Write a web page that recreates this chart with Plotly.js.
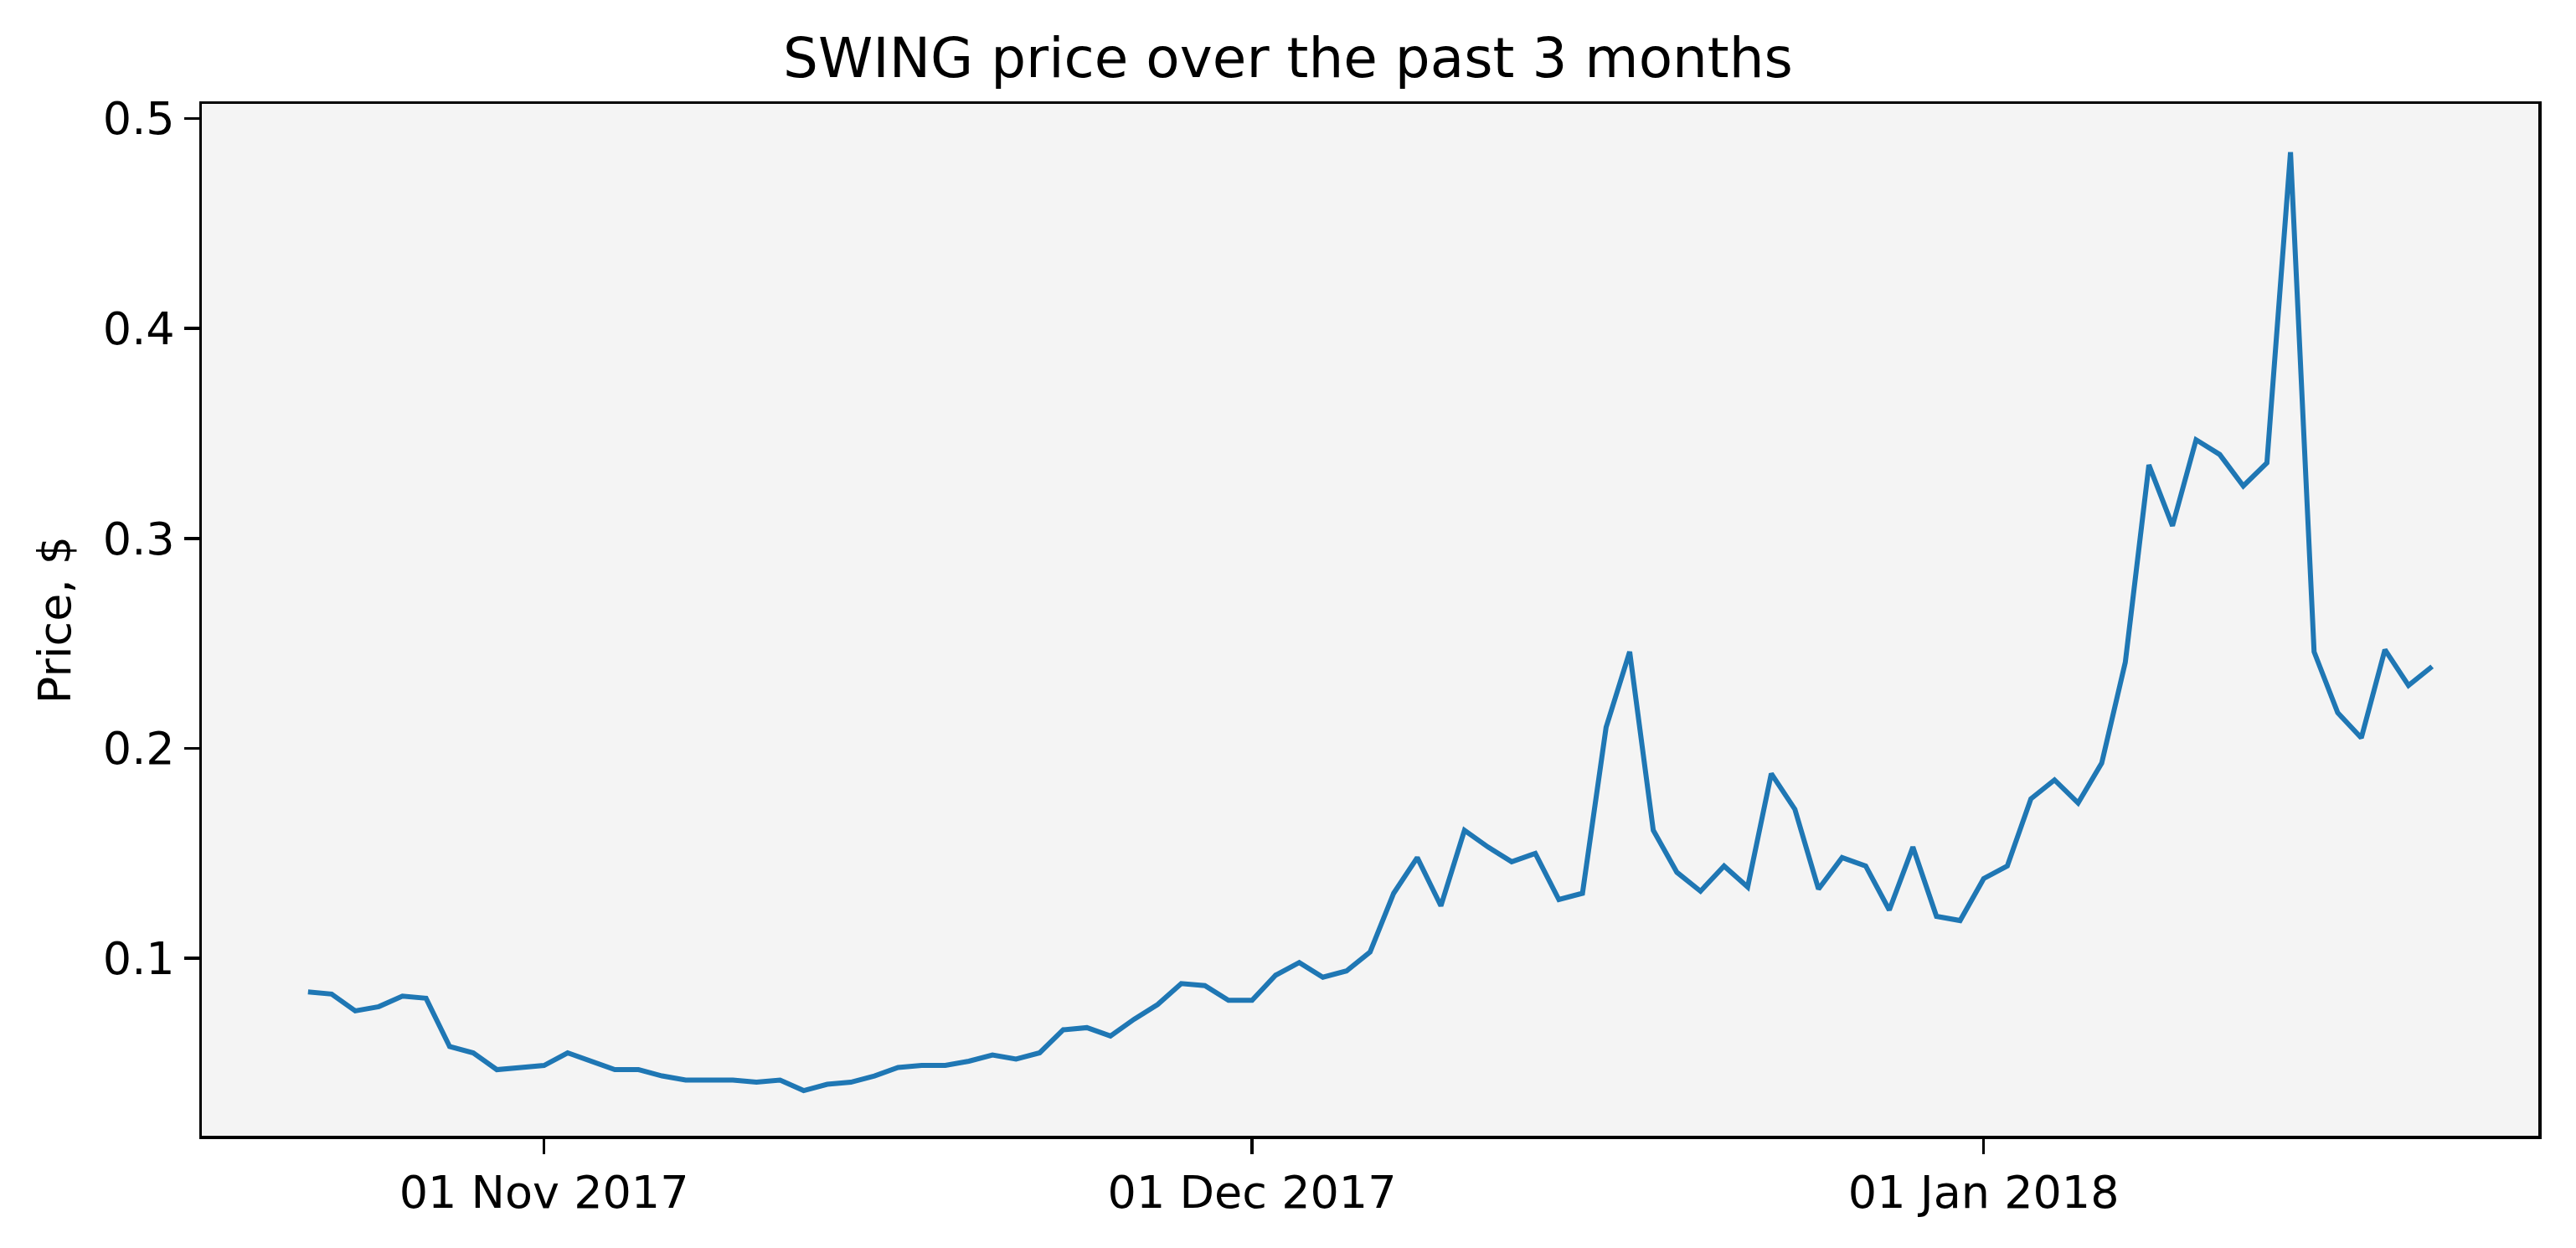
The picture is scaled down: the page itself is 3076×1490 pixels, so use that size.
<!DOCTYPE html>
<html><head><meta charset="utf-8">
<script src="https://cdn.plot.ly/plotly-3.0.1.min.js"></script>
<style>body{margin:0}#c{width:3076px;height:1490px}</style></head>
<body><div id="c"></div>
<script>
const startDate = '2017-10-22';
const prices = [0.084,0.083,0.075,0.077,0.082,0.081,0.058,0.055,0.047,0.048,
0.049,0.055,0.051,0.047,0.047,0.044,0.042,0.042,0.042,0.041,0.042,0.037,0.040,0.041,0.044,0.048,0.049,0.049,0.051,0.054,0.052,0.055,0.066,0.067,0.063,0.071,0.078,0.088,0.087,0.080,
0.080,0.092,0.098,0.091,0.094,0.103,0.131,0.148,0.125,0.161,0.153,0.146,0.150,0.128,0.131,0.210,0.246,0.161,0.141,0.132,0.144,0.134,0.188,0.171,0.133,0.148,0.144,0.123,0.153,0.120,0.118,
0.138,0.144,0.176,0.185,0.174,0.193,0.241,0.335,0.306,0.347,0.340,0.325,0.336,0.484,0.246,0.217,0.205,0.247,0.230,0.239];
const tickDates = ['2017-11-01','2017-12-01','2018-01-01'];
const tickLabels = ['01 Nov 2017','01 Dec 2017','01 Jan 2018'];
const dates = prices.map((_,i)=>{const d=new Date(startDate+'T00:00:00Z');d.setUTCDate(d.getUTCDate()+i);return d.toISOString().slice(0,10);});
const font = {family:'DejaVu Sans', color:'#000'};
Plotly.newPlot('c',[{x:dates,y:prices,type:'scatter',mode:'lines',line:{color:'#1f77b4',width:6}}],{
  width:3076,height:1490,margin:{l:241,r:45,t:124,b:134},
  paper_bgcolor:'#fff',plot_bgcolor:'#f4f4f4',showlegend:false,
  font:Object.assign({size:54},font),
  title:{text:'SWING price over the past 3 months',font:Object.assign({size:66},font),x:0.5,xanchor:'center',y:0.954,yanchor:'middle'},
  xaxis:{type:'date',range:['2017-10-17 12:00','2018-01-24 12:00'],tickvals:tickDates,ticktext:tickLabels,
    showgrid:false,zeroline:false,showline:true,mirror:true,linecolor:'#000',linewidth:3.5,
    ticks:'outside',ticklen:18,tickwidth:3.5,tickcolor:'#000',tickfont:Object.assign({size:54},font)},
  yaxis:{range:[0.0155,0.507],tickvals:[0.1,0.2,0.3,0.4,0.5],ticktext:['0.1','0.2','0.3','0.4','0.5'],
    showgrid:false,zeroline:false,showline:true,mirror:true,linecolor:'#000',linewidth:3.5,
    ticks:'outside',ticklen:18,tickwidth:3.5,tickcolor:'#000',tickfont:Object.assign({size:54},font),
    title:{text:'Price, $',font:Object.assign({size:54},font),standoff:22}}
},{staticPlot:true});
</script></body></html>
